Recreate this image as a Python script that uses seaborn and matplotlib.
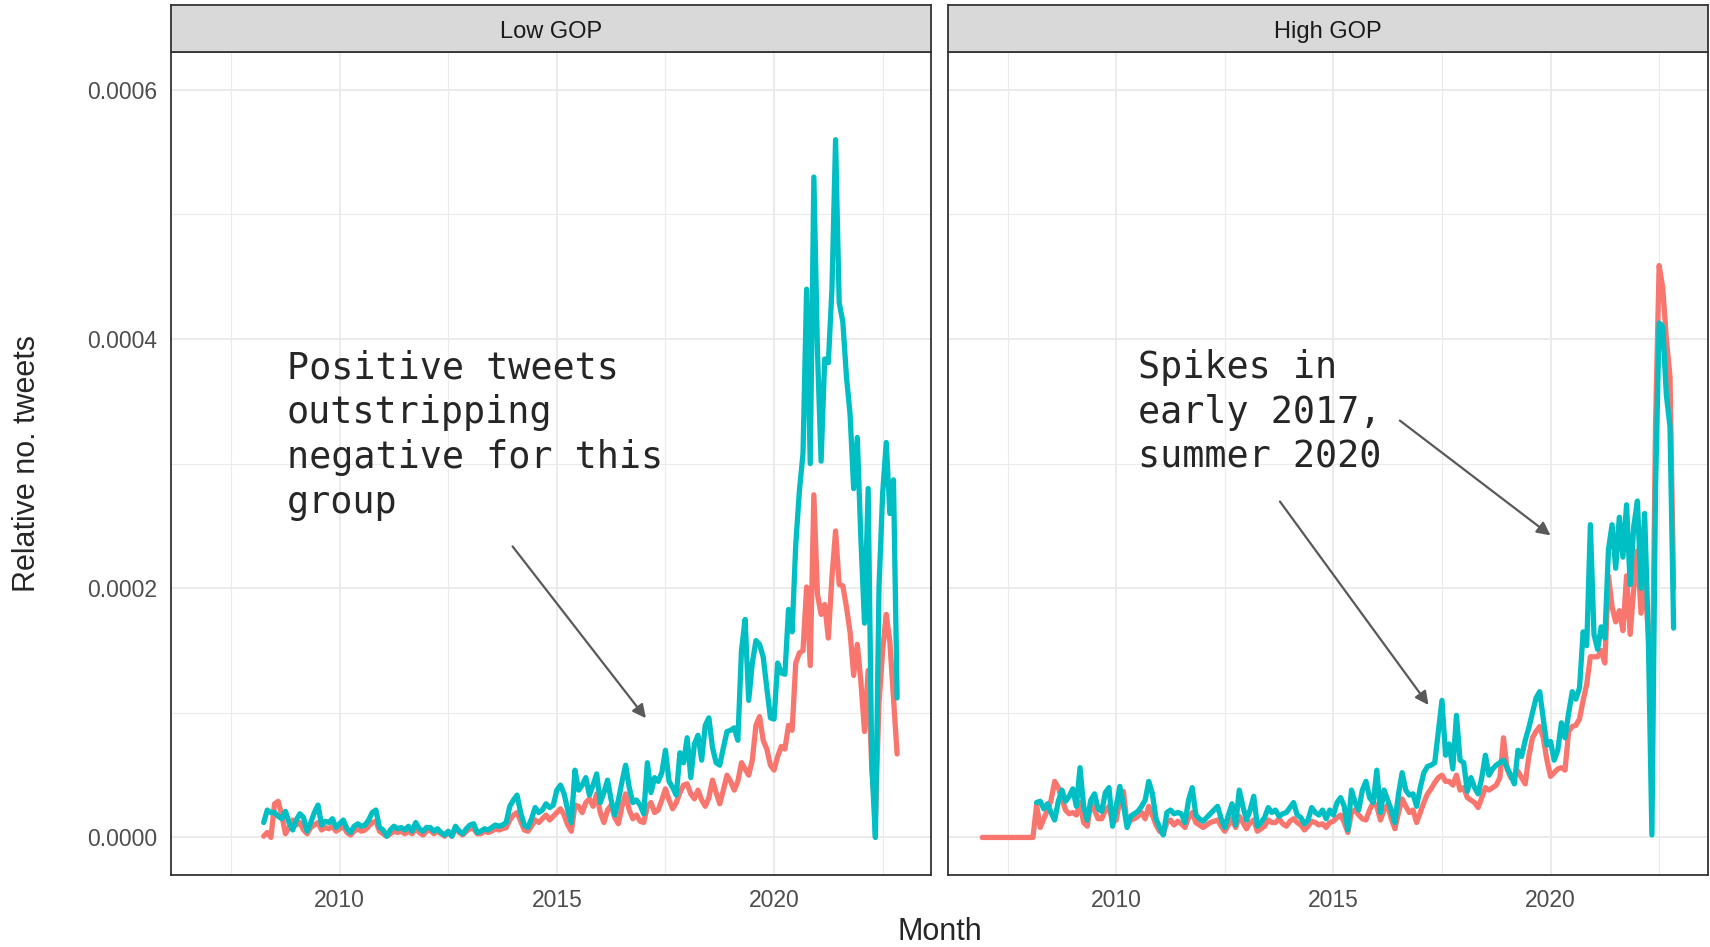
import matplotlib
matplotlib.use("Agg")
import matplotlib.pyplot as plt
from matplotlib.ticker import FixedLocator
import seaborn as sns
import pandas as pd

# values in millionths (1e-6) of all tweets, one per month
low_start = "2008-04"
low_negative = [
    1, 4, 0, 27, 29, 18, 3, 8, 14, 10,
    12, 6, 3, 8, 10, 12, 6, 8, 7, 9,
    5, 7, 9, 4, 2, 5, 7, 5, 6, 9,
    12, 13, 5, 3, 1, 3, 5, 4, 5, 3,
    5, 3, 7, 4, 2, 5, 6, 3, 5, 3,
    1, 4, 1, 8, 4, 2, 5, 7, 7, 3,
    3, 5, 4, 5, 7, 6, 7, 8, 14, 18,
    20, 13, 6, 5, 9, 14, 12, 15, 18, 14,
    17,
    20, 23, 18, 10, 5, 26, 25, 20, 28, 31,
    25, 35, 20, 12, 22, 26, 16, 11, 25, 35,
    22, 15, 18, 13, 12, 25, 28, 20, 22, 30,
    39, 30, 23, 28, 36, 42, 43, 35, 31, 38,
    30, 25, 32, 46, 36, 27, 38, 50, 45, 38,
    45, 60, 55, 50, 62, 90, 97, 78, 71, 58, 54,
    65, 73, 71, 90, 86, 140, 148, 150, 201, 138,
    275, 195, 179, 187, 160, 209, 246, 203, 202, 185,
    165, 130, 155, 125, 85, 134, 56, 15, 108, 150,
    179, 157, 112, 67,
]
low_positive = [
    12, 22, 20, 20, 17, 15, 21, 12, 6, 14,
    19, 16, 5, 12, 20, 26, 10, 13, 12, 15,
    8, 11, 14, 7, 4, 9, 11, 9, 10, 14,
    20, 22, 8, 6, 1, 6, 9, 7, 8, 6,
    9, 5, 12, 7, 5, 8, 8, 5, 7, 4,
    2, 5, 1, 9, 5, 3, 7, 10, 11, 4,
    5, 7, 6, 8, 10, 9, 10, 12, 25, 30,
    34, 20, 10, 8, 15, 24, 20, 22, 27, 24,
    26,
    38, 42, 35, 22, 12, 54, 38, 42, 48, 34,
    42, 51, 28, 36, 46, 30, 18, 30, 45, 58,
    40, 28, 30, 26, 19, 60, 36, 48, 45, 52,
    70, 45, 40, 34, 68, 60, 80, 48, 75, 82,
    62, 90, 96, 72, 60, 58, 72, 85, 86, 88,
    78, 150, 175, 110, 140, 158, 155, 145, 120, 96, 95,
    140, 132, 131, 183, 165, 235, 278, 308, 440, 300,
    530, 390, 302, 384, 381, 440, 560, 429, 414, 370,
    340, 280, 321, 239, 172, 280, 60, 0, 201, 276,
    317, 260, 287, 112,
]

high_start = "2006-12"
high_negative = [
    0, 0, 0, 0, 0, 0, 0, 0, 0, 0, 0, 0, 0, 0, 0,
    26, 8, 15, 22, 30, 45, 40, 31, 22, 19,
    20, 18, 28, 12, 9, 28, 22, 15, 15, 22,
    25, 12, 14, 30, 37, 10, 14, 15, 17, 20,
    15, 25, 18, 10, 5, 3, 12, 14, 10, 13,
    11, 8, 16, 20, 12, 10, 8, 10, 12, 13,
    14, 9, 5, 10, 15, 8, 17, 12, 7, 12,
    14, 5, 7, 9, 14, 12,
    12, 15, 11, 9, 13, 15, 12, 10, 6, 9,
    13, 12, 10, 11, 8, 12, 13, 16, 18, 12,
    4, 20, 22, 18, 15, 14, 22, 28, 25, 14,
    22, 26, 15, 7, 20, 31, 25, 20, 22, 12,
    20, 28, 35, 39, 44, 48, 50, 45, 45, 42,
    50, 38, 40, 32, 30, 28, 24, 32, 40, 38,
    40, 42, 48, 80, 55, 48, 50, 53, 48, 43,
    65, 80, 85,
    89, 80, 62, 49, 52, 55, 56, 54, 85, 89,
    90, 95, 110, 123, 145, 145, 145, 150, 140, 210,
    185, 173, 182, 166, 210, 163, 200, 230, 180, 210,
    163, 95, 330, 459, 441, 400, 370, 200,
]
high_positive = [
    None, None, None, None, None, None, None, None, None, None, None, None, None, None, None,
    28, 29, 23, 27, 20, 14, 29, 38, 29, 33,
    39, 25, 56, 25, 14, 30, 35, 23, 21, 36,
    40, 9, 25, 41, 26, 8, 17, 19, 21, 25,
    30, 45, 35, 15, 8, 2, 20, 22, 19, 20,
    19, 12, 30, 40, 18, 15, 13, 16, 19, 22,
    25, 15, 8, 18, 27, 10, 38, 25, 14, 22,
    33, 9, 12, 16, 24, 20,
    22, 17, 19, 20, 24, 28, 18, 16, 11, 14,
    24, 20, 18, 22, 15, 22, 18, 28, 32, 25,
    6, 38, 28, 22, 38, 45, 32, 28, 54, 20,
    38, 30, 22, 12, 35, 52, 38, 34, 35, 25,
    40, 52, 57, 58, 60, 85, 110, 66, 75, 55,
    98, 62, 60, 37, 48, 40, 35, 48, 66, 50,
    55, 58, 60, 62, 56, 50, 43, 70, 65, 78,
    88, 100, 112,
    117, 95, 74, 77, 62, 70, 92, 80, 100, 117,
    111, 120, 165, 154, 251, 163, 151, 169, 160, 231,
    251, 216, 257, 225, 267, 203, 250, 270, 200, 260,
    163, 2, 280, 413, 410, 355, 330, 168,
]

panels = ["Low GOP", "High GOP"]
palette = {"negative": "#F8766D", "positive": "#00BFC4"}


def monthly_frame(start, negative, positive):
    months = pd.date_range(start, periods=len(negative), freq="MS")
    decimal = months.year + (months.month - 1) / 12
    rows = []
    for label, vals in [("negative", negative), ("positive", positive)]:
        d = pd.DataFrame({"month": decimal, "value": vals, "sentiment": label})
        rows.append(d)
    df = pd.concat(rows, ignore_index=True).dropna()
    df["value"] = df["value"].astype(float) * 1e-6
    return df


frames = {
    "Low GOP": monthly_frame(low_start, low_negative, low_positive),
    "High GOP": monthly_frame(high_start, high_negative, high_positive),
}

sns.set_style("white")
plt.rcParams["font.family"] = ["Liberation Sans", "DejaVu Sans"]

fig = plt.figure(figsize=(17.1, 9.47), dpi=100)
panel_lefts = [0.1001, 0.5542]
pw, pb, ph = 0.4445, 0.0762, 0.8684
dark = "#333333"

for i, name in enumerate(panels):
    ax = fig.add_axes([panel_lefts[i], pb, pw, ph])
    sns.lineplot(data=frames[name], x="month", y="value", hue="sentiment",
                 hue_order=["negative", "positive"], palette=palette,
                 linewidth=3.8, legend=False, ax=ax, estimator=None)
    ax.set_xlim(2006.12, 2023.62)
    ax.set_ylim(-0.00003, 0.00063)
    ax.xaxis.set_major_locator(FixedLocator([2010, 2015, 2020]))
    ax.xaxis.set_minor_locator(FixedLocator([2007.5, 2012.5, 2017.5, 2022.5]))
    ax.yaxis.set_major_locator(FixedLocator([0, 0.0002, 0.0004, 0.0006]))
    ax.yaxis.set_minor_locator(FixedLocator([0.0001, 0.0003, 0.0005]))
    ax.grid(which="major", color="#EBEBEB", linewidth=1.4)
    ax.grid(which="minor", color="#EBEBEB", linewidth=0.8)
    ax.set_axisbelow(True)
    for s in ax.spines.values():
        s.set_color(dark)
        s.set_linewidth(1.3)
    ax.set_xlabel("")
    ax.set_ylabel("")
    ax.tick_params(which="major", length=5.5, width=1.1, color=dark,
                   labelsize=16.5, labelcolor="#4D4D4D", pad=4.5)
    ax.tick_params(which="minor", length=0)
    ax.set_xticklabels(["2010", "2015", "2020"])
    if i == 0:
        ax.set_yticklabels(["0.0000", "0.0002", "0.0004", "0.0006"])
    else:
        ax.tick_params(axis="y", which="major", length=0, labelleft=False)

    strip = fig.add_axes([panel_lefts[i], pb + ph, pw, 0.0497])
    strip.set_facecolor("#D9D9D9")
    strip.set_xticks([])
    strip.set_yticks([])
    for s in strip.spines.values():
        s.set_color(dark)
        s.set_linewidth(1.3)
    strip.text(0.5, 0.44, name, ha="center", va="center", fontsize=17,
               color="#1A1A1A", transform=strip.transAxes)

    arrow = dict(arrowstyle="-|>", color="#595959", lw=1.6,
                 mutation_scale=20, shrinkA=0, shrinkB=0)
    note = dict(family="DejaVu Sans Mono", fontsize=26.5, va="top", ha="left",
                linespacing=1.27)
    if name == "Low GOP":
        ax.text(2008.78, 0.000392, "Positive tweets\noutstripping\nnegative for this\ngroup",
                **note)
        ax.annotate("", xy=(2017.05, 0.0000957), xytext=(2013.98, 0.0002336),
                    arrowprops=arrow)
    else:
        ax.text(2010.5, 0.000392, "Spikes in\nearly 2017,\nsummer 2020", **note)
        ax.annotate("", xy=(2020.0, 0.0002424), xytext=(2016.53, 0.0003346),
                    arrowprops=arrow)
        ax.annotate("", xy=(2017.19, 0.0001063), xytext=(2013.77, 0.0002696),
                    arrowprops=arrow)

fig.text(0.5494, 0.016, "Month", ha="center", va="center", fontsize=22)
fig.text(0.016, pb + ph / 2, "Relative no. tweets", ha="center", va="center",
         rotation=90, fontsize=22)

fig.savefig("out.png", dpi=100)
